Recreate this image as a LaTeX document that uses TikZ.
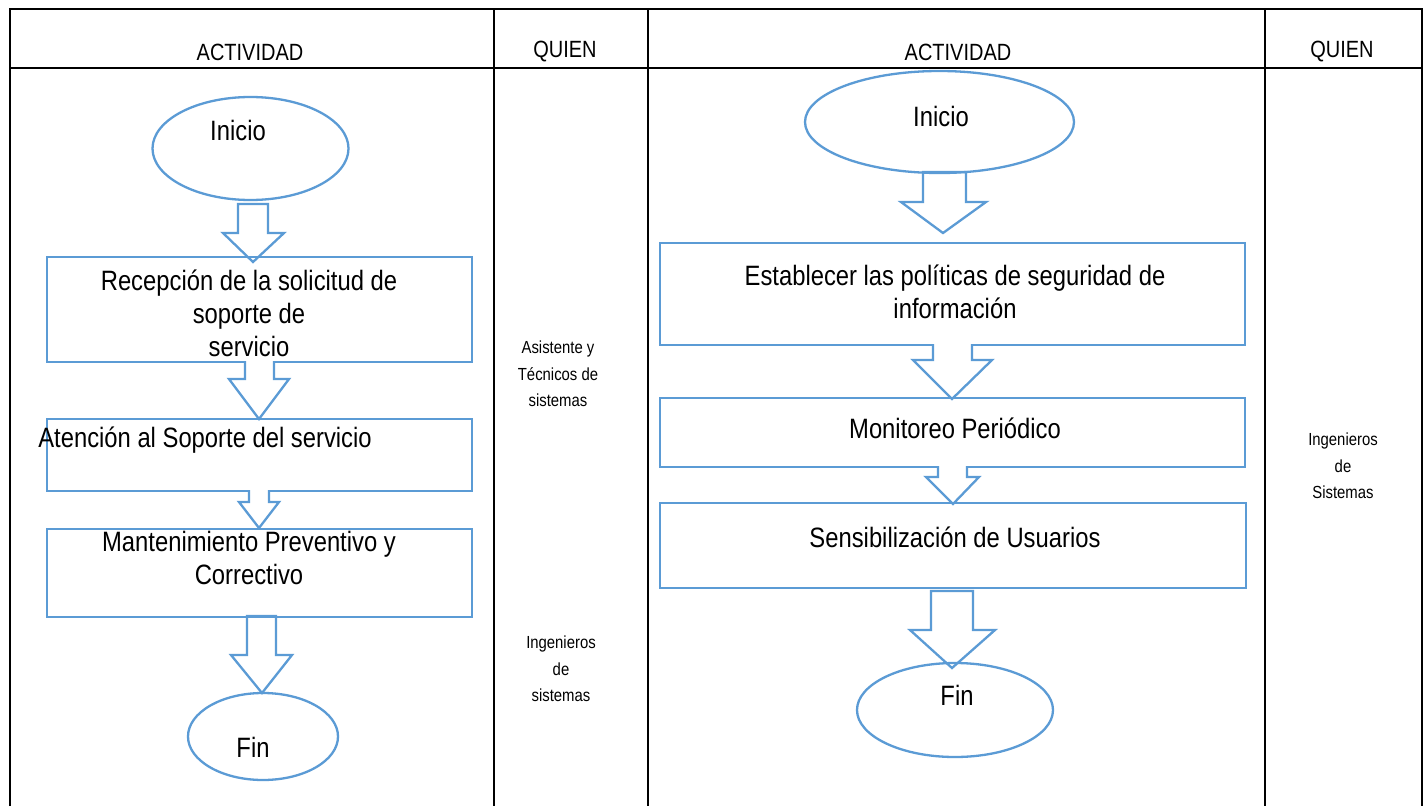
\documentclass[tikz,border=0pt]{standalone}
\usepackage{fontspec}
\setmainfont{Liberation Sans}[FakeStretch=0.85]
\usetikzlibrary{shapes.geometric}
\definecolor{flowblue}{RGB}{91,155,213}
\newcommand{\arrclosed}[8]{\draw[blockarrow] (#1,#3) -- (#1,#4) -- (#5,#4) -- (#7,#8) -- (#6,#4) -- (#2,#4) -- (#2,#3) -- cycle;}
\newcommand{\arropen}[8]{\fill[white] (#1,#3-2) -- (#1,#4) -- (#5,#4) -- (#7,#8) -- (#6,#4) -- (#2,#4) -- (#2,#3-2) -- cycle;
  \draw[flow,line join=miter] (#1,#3-1) -- (#1,#4) -- (#5,#4) -- (#7,#8) -- (#6,#4) -- (#2,#4) -- (#2,#3-1);}
\begin{document}
\begin{tikzpicture}[x=1pt,y=-1pt,
  grid/.style={line width=2.6pt,black},
  flow/.style={draw=flowblue,line width=2.3pt},
  term/.style={flow,ellipse,inner sep=0pt},
  procbox/.style={flow,rectangle,inner sep=0pt,minimum width=425pt},
  blockarrow/.style={flow,line join=miter,fill=white},
  txt/.style={font=\fontsize{28}{33}\selectfont,align=center,inner sep=0pt},
  head/.style={font=\fontsize{23.5}{26}\selectfont,inner sep=0pt},
  who/.style={font=\fontsize{17.5}{26.5}\selectfont,align=center,inner sep=0pt}]
\useasboundingbox (0,0) rectangle (1427,806);
\fill[white] (0,0) rectangle (1427,806);
% table
\draw[grid] (10,806) -- (10,9) -- (1422,9) -- (1422,806);
\draw[grid] (10,68) -- (1422,68);
\draw[grid] (494,9) -- (494,806);
\draw[grid] (648,9) -- (648,806);
\draw[grid] (1265,9) -- (1265,806);
% headers
\node[head] (h1) at (250,52) {ACTIVIDAD};
\node[head] (h2) at (565,52) {QUIEN};
\node[head] (h3) at (958,52) {ACTIVIDAD};
\node[head] (h4) at (1342,52) {QUIEN};
% closed-top arrows (drawn beneath shapes)
\arrclosed{238}{268}{204}{233}{223}{284}{253}{262}
\arrclosed{247}{276}{616}{655}{231}{292}{262}{693}
\arrclosed{923}{966}{172}{202}{901}{986}{943}{233}
\arrclosed{931}{973}{591}{630}{910}{995}{952}{668}
% left flow
\node[term,minimum width=196pt,minimum height=103pt] (iniL) at (250.5,148.5) {};
\node[procbox,minimum height=105pt] (b1) at (259.5,309.5) {};
\node[procbox,minimum height=72pt] (b2) at (259.5,455) {};
\node[procbox,minimum height=88pt] (b3) at (259.5,573) {};
\node[term,minimum width=150pt,minimum height=87pt] (finL) at (263,736.5) {};
% right flow
\node[term,minimum width=269pt,minimum height=102pt] (iniR) at (939.5,122) {};
\node[procbox,minimum width=585pt,minimum height=102pt] (bA) at (952.5,294) {};
\node[procbox,minimum width=585pt,minimum height=69pt] (bB) at (952.5,432.5) {};
\node[procbox,minimum width=586pt,minimum height=85pt] (bC) at (953,545.5) {};
\node[term,minimum width=196pt,minimum height=94pt] (finR) at (955,710) {};
% open-top arrows (drawn over box bottoms)
\arropen{245}{274}{362}{379}{229}{289}{259}{419}
\arropen{249}{269}{491}{502}{239}{279}{259}{528}
\arropen{933}{972}{345}{360}{913}{992}{952}{399}
\arropen{938}{967}{467}{477}{926}{979}{953}{504}
% texts
\node[txt] (tIniL) at (238,130) {Inicio};
\node[txt] (tb1) at (249,313) {Recepción de la solicitud de\\soporte de\\servicio};
\node[txt] (tb2) at (205,440) {Atención al Soporte del servicio};
\node[txt] (tb3) at (249,558) {Mantenimiento Preventivo y\\Correctivo};
\node[txt] (tFinL) at (253,747) {Fin};
\node[txt] (tIniR) at (941,116) {Inicio};
\node[txt] (tbA) at (955,292) {Establecer las políticas de seguridad de\\información};
\node[txt] (tbB) at (955,428) {Monitoreo Periódico};
\node[txt] (tbC) at (955,537) {Sensibilización de Usuarios};
\node[txt] (tFinR) at (957,695) {Fin};
% quien column
\node[who] (w1) at (558,374) {Asistente y\\Técnicos de\\sistemas};
\node[who] (w2) at (561,669) {Ingenieros\\de\\sistemas};
\node[who] (w3) at (1343,466) {Ingenieros\\de\\Sistemas};
\end{tikzpicture}
\end{document}
